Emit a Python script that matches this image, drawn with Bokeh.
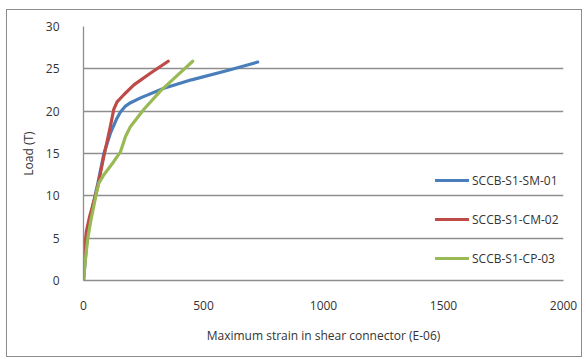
from bokeh.plotting import figure
from bokeh.models import Range1d, Legend, LegendItem, FixedTicker
from bokeh.embed import file_html
from bokeh.resources import INLINE

# Data (strain E-06, load T)
sm01_x = [0, 15, 40, 60, 85, 112, 140, 154, 175, 196, 240, 335, 450, 600, 726]
sm01_y = [0, 5, 9, 11.5, 15, 17.4, 19.2, 19.9, 20.6, 21.0, 21.6, 22.7, 23.7, 24.8, 25.8]
cm02_x = [0, 5, 12, 25, 40, 57, 85, 112, 126, 140, 170, 210, 280, 353]
cm02_y = [0, 4, 5.8, 7.5, 9, 10.8, 14.7, 18.2, 20.2, 21.1, 22.0, 23.1, 24.5, 25.9]
cp03_x = [0, 10, 18, 30, 43, 55, 64, 85, 125, 154, 175, 196, 251, 321, 390, 455]
cp03_y = [0, 3, 5, 7, 8.8, 10.5, 11.5, 12.5, 14.0, 15.2, 17.0, 18.2, 20.2, 22.4, 24.2, 25.9]
names = ["SCCB-S1-SM-01", "SCCB-S1-CM-02", "SCCB-S1-CP-03"]
colors = ["#4A7EBB", "#BE4B48", "#98B954"]
x_ticks = [0, 500, 1000, 1500, 2000]
y_ticks = [0, 5, 10, 15, 20, 25, 30]

FONT = "Open Sans"

p = figure(width=576, height=348, output_backend="svg", toolbar_location=None,
           x_range=Range1d(0, 2000), y_range=Range1d(0, 30),
           min_border_left=76, min_border_right=20, min_border_top=16, min_border_bottom=78)
p.margin = (9, 0, 0, 6)
p.styles = {"border": "1px solid #8c8c8c"}
p.outline_line_color = None
p.background_fill_color = "white"

p.xgrid.grid_line_color = None
p.ygrid.grid_line_color = "#8e8e8e"
p.ygrid.grid_line_width = 1.3

for ax in (p.xaxis[0], p.yaxis[0]):
    ax.axis_line_color = "#8e8e8e"
    ax.axis_line_width = 1.3
    ax.major_tick_line_color = None
    ax.minor_tick_line_color = None
    ax.major_label_text_font = FONT
    ax.major_label_text_font_size = "12px"
    ax.major_label_text_color = "#333333"
    ax.axis_label_text_font = FONT
    ax.axis_label_text_font_size = "12px"
    ax.axis_label_text_font_style = "normal"
    ax.axis_label_text_color = "#333333"

p.xaxis.ticker = FixedTicker(ticks=x_ticks)
p.yaxis.ticker = FixedTicker(ticks=y_ticks)
p.xaxis.major_label_standoff = 14
p.yaxis.major_label_standoff = 18
p.xaxis.axis_label = "Maximum strain in shear connector (E-06)"
p.yaxis.axis_label = "Load (T)"
p.xaxis.axis_label_standoff = 14
p.yaxis.axis_label_standoff = 6

r1 = p.line(sm01_x, sm01_y, line_color=colors[0], line_width=3.2, line_join="round", line_cap="round")
r2 = p.line(cm02_x, cm02_y, line_color=colors[1], line_width=3.2, line_join="round", line_cap="round")
r3 = p.line(cp03_x, cp03_y, line_color=colors[2], line_width=3.2, line_join="round", line_cap="round")

legend = Legend(items=[LegendItem(label=names[0], renderers=[r1]),
                       LegendItem(label=names[1], renderers=[r2]),
                       LegendItem(label=names[2], renderers=[r3])],
                location=(352, 12), padding=0, margin=0, spacing=19,
                glyph_width=34, glyph_height=20, label_height=20, label_standoff=3,
                label_text_font=FONT, label_text_font_size="12px", label_text_color="#333333",
                background_fill_alpha=0, border_line_color=None)
p.add_layout(legend)

open("out.html", "w").write(file_html(p, INLINE))
